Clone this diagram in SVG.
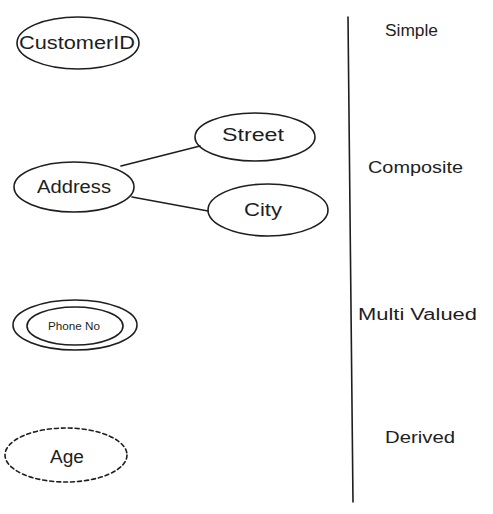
<svg xmlns="http://www.w3.org/2000/svg" width="493" height="514" viewBox="0 0 493 514">
<style>
.shape{fill:none;stroke:#1e1e1e;stroke-width:1.6;stroke-linecap:round}
.dash{stroke-dasharray:4 3}
.t{font-family:"Liberation Sans","DejaVu Sans",sans-serif;fill:#1e1e1e;text-anchor:middle;dominant-baseline:central}
.lbl{font-family:"Liberation Sans","DejaVu Sans",sans-serif;fill:#1e1e1e;font-size:16px;dominant-baseline:central}
</style>
<rect width="493" height="514" fill="#ffffff"/>
<g id="connectors">
<line class="shape" x1="121" y1="166" x2="200" y2="146"/>
<line class="shape" x1="132" y1="197" x2="208" y2="211"/>
<line class="shape" x1="348" y1="17" x2="353" y2="502" stroke-width="2"/>
</g>
<g id="customerid">
<ellipse class="shape" cx="78" cy="43" rx="61" ry="26"/>
<text class="t" x="77" y="43" font-size="18" textLength="116" lengthAdjust="spacingAndGlyphs">CustomerID</text>
</g>
<g id="street">
<ellipse class="shape" cx="255" cy="137" rx="60" ry="24"/>
<text class="t" x="253" y="135" font-size="18" textLength="62" lengthAdjust="spacingAndGlyphs">Street</text>
</g>
<g id="address">
<ellipse class="shape" cx="74" cy="187" rx="60" ry="25"/>
<text class="t" x="74" y="187" font-size="18" textLength="74" lengthAdjust="spacingAndGlyphs">Address</text>
</g>
<g id="city">
<ellipse class="shape" cx="268" cy="210" rx="60" ry="26"/>
<text class="t" x="263" y="210" font-size="18" textLength="38" lengthAdjust="spacingAndGlyphs">City</text>
</g>
<g id="phoneno">
<ellipse class="shape" cx="75" cy="325" rx="62" ry="25"/>
<ellipse class="shape" cx="75" cy="326" rx="48" ry="19"/>
<text class="t" x="74" y="326" font-size="11" textLength="52" lengthAdjust="spacingAndGlyphs">Phone No</text>
</g>
<g id="age">
<ellipse class="shape dash" cx="66" cy="455" rx="61" ry="27"/>
<text class="t" x="67" y="457" font-size="18" textLength="34" lengthAdjust="spacingAndGlyphs">Age</text>
</g>
<g id="labels">
<text class="lbl" x="385" y="30" textLength="53" lengthAdjust="spacingAndGlyphs">Simple</text>
<text class="lbl" x="368" y="167" textLength="95" lengthAdjust="spacingAndGlyphs">Composite</text>
<text class="lbl" x="358" y="314" textLength="119" lengthAdjust="spacingAndGlyphs">Multi Valued</text>
<text class="lbl" x="385" y="437" textLength="70" lengthAdjust="spacingAndGlyphs">Derived</text>
</g>
</svg>
